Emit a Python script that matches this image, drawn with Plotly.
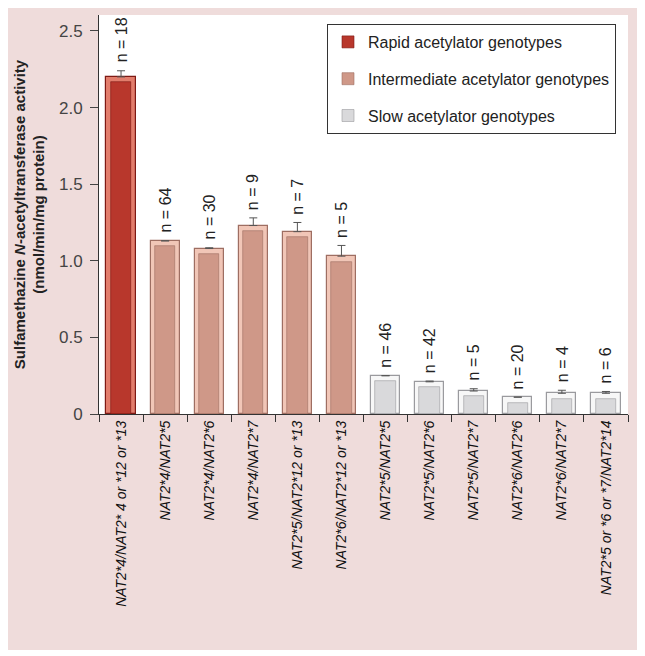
import plotly.graph_objects as go

genotypes = [
    "NAT2*4/NAT2* 4 or *12 or *13", "NAT2*4/NAT2*5", "NAT2*4/NAT2*6", "NAT2*4/NAT2*7",
    "NAT2*5/NAT2*12 or *13", "NAT2*6/NAT2*12 or *13", "NAT2*5/NAT2*5", "NAT2*5/NAT2*6",
    "NAT2*5/NAT2*7", "NAT2*6/NAT2*6", "NAT2*6/NAT2*7", "NAT2*5 or *6 or *7/NAT2*14",
]
activity = [2.20, 1.13, 1.08, 1.23, 1.19, 1.03, 0.25, 0.21, 0.15, 0.11, 0.135, 0.135]
sem = [0.04, 0.0, 0.005, 0.05, 0.06, 0.07, 0.0, 0.005, 0.015, 0.0, 0.02, 0.012]
n_sizes = [18, 64, 30, 9, 7, 5, 46, 42, 5, 20, 4, 6]
phenotype = ["Rapid"] + ["Intermediate"] * 5 + ["Slow"] * 6

groups = [
    ("Rapid", "Rapid acetylator genotypes", "#B8372C", "#E27D6C", "#7E1A14"),
    ("Intermediate", "Intermediate acetylator genotypes", "#CF9888", "#F1C6B7", "#9E6E62"),
    ("Slow", "Slow acetylator genotypes", "#D9D9DB", "#F7F7F7", "#9A9A9E"),
]

fig = go.Figure()
for key, name, face, light, edge in groups:
    idx = [i for i, p in enumerate(phenotype) if p == key]
    xs = [genotypes[i] for i in idx]
    ys = [activity[i] for i in idx]
    es = [sem[i] if sem[i] > 0 else None for i in idx]
    fig.add_trace(go.Bar(
        x=xs, y=ys, width=0.66, name=name, legendgroup=key, showlegend=False,
        marker=dict(color=light, line=dict(color=edge, width=1.2)),
        error_y=dict(type="data", array=es, arrayminus=[0] * len(es), symmetric=False,
                     color="#555555", thickness=1, width=4),
    ))
    fig.add_trace(go.Bar(
        x=xs, y=[v - 0.035 for v in ys], width=0.46, name=name, legendgroup=key,
        showlegend=True,
        marker=dict(color=face, line=dict(color=edge, width=0.6)),
        hoverinfo="skip",
    ))

for g, v, e, n in zip(genotypes, activity, sem, n_sizes):
    fig.add_annotation(
        x=g, y=v + e, text=f"n = {n}", textangle=-90, showarrow=False,
        yanchor="bottom", yshift=6, font=dict(size=16, color="#222222",
                                              family="Liberation Sans, Arial, sans-serif"),
    )

# the page body has an 8px margin; figure coordinates = page coordinates - 8
OFF = 8
W, H = 645 - OFF, 656 - OFF
L, T = 99 - OFF, 15 - OFF
R = W - (628 - OFF)
B = H - (414 - OFF)
pw, ph = W - L - R, H - T - B
base = H - B
fig.add_shape(type="rect", xref="paper", yref="paper", layer="below",
              x0=(0 - L) / pw, x1=(638 - OFF - L) / pw,
              y0=-(650 - OFF - base) / ph, y1=(base - 0) / ph,
              fillcolor="#EFDCDB", line=dict(width=0))
fig.add_shape(type="rect", xref="paper", yref="paper", layer="below",
              x0=0, x1=1, y0=0, y1=1, fillcolor="white", line=dict(width=0))

fig.update_layout(
    width=W, height=H, margin=dict(l=L, r=R, t=T, b=B),
    paper_bgcolor="white", plot_bgcolor="white",
    barmode="overlay", bargap=0,
    font=dict(family="Liberation Sans, Arial, sans-serif", color="#222222"),
    showlegend=True,
    legend=dict(x=(327 - 99) / pw, y=(414 - 24) / ph, xanchor="left", yanchor="top",
                bgcolor="white", bordercolor="#333333", borderwidth=1,
                font=dict(size=16, color="#222222"), tracegroupgap=13,
                itemwidth=30),
    xaxis=dict(type="category", categoryorder="array", categoryarray=genotypes,
               tickson="boundaries", ticks="outside", ticklen=7, tickcolor="#333333",
               showline=True, linecolor="#333333", linewidth=1, showgrid=False,
               tickangle=-90, tickfont=dict(size=14, color="#111111", style="italic"),
               range=[-0.5, len(genotypes) - 0.5]),
    yaxis=dict(range=[0, 2.604], tickvals=[0, 0.5, 1.0, 1.5, 2.0, 2.5],
               ticktext=["0", "0.5", "1.0", "1.5", "2.0", "2.5"],
               ticks="outside", ticklen=8, tickcolor="#444444",
               showline=True, linecolor="#333333", linewidth=1, showgrid=False, zeroline=False,
               tickfont=dict(size=17, color="#444444"), ticklabelstandoff=4,
               title=dict(text="<b>Sulfamethazine <i>N</i>-acetyltransferase activity<br>(nmol/min/mg protein)</b>",
                          font=dict(size=15, color="#222222"), standoff=10)),
)

fig.write_html("out.html")
